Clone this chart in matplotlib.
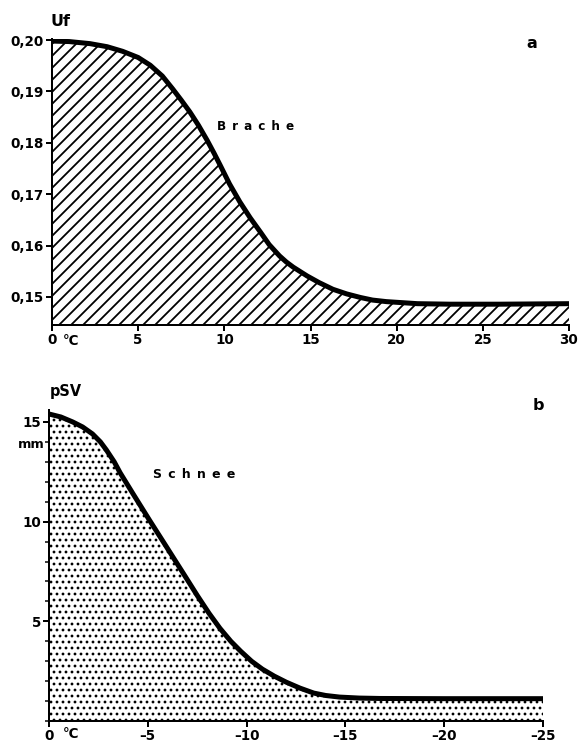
import numpy as np
import matplotlib.pyplot as plt

plt.rcParams['font.family'] = ['DejaVu Sans']
plt.rcParams['hatch.linewidth'] = 1.8

# panel a: Brache (Uf against temperature)
brache_t = [0, 1.0, 2.2, 3.2, 4.1, 5.0, 5.7, 6.4, 7.0, 7.5, 8.0, 8.5, 9.0, 9.4,
            9.75, 10.3, 10.9, 11.5, 12.1, 12.6, 13.2, 13.6, 14.0, 14.8, 15.5,
            16.3, 17.1, 17.9, 18.6, 19.4, 20.3, 21.2, 23.1, 26.0, 30.0]
brache_uf = [0.1998, 0.1997, 0.1993, 0.1987, 0.1978, 0.1966, 0.1951, 0.1930, 0.1905,
             0.1883, 0.1860, 0.1834, 0.1805, 0.1780, 0.1757, 0.1720, 0.1685, 0.1654,
             0.1626, 0.1602, 0.1580, 0.1568, 0.1558, 0.1541, 0.1528, 0.1515, 0.1506,
             0.1499, 0.1494, 0.1491, 0.1489, 0.1487, 0.1486, 0.1486, 0.1487]
uf_ticks = [0.15, 0.16, 0.17, 0.18, 0.19, 0.20]
uf_labels = ['0,15', '0,16', '0,17', '0,18', '0,19', '0,20']
ta_ticks = [0, 5, 10, 15, 20, 25, 30]
ta_labels = ['0', '5', '10', '15', '20', '25', '30']

# panel b: Schnee (pSV in mm against temperature)
snow_t = [0, -0.6, -1.2, -1.7, -2.2, -2.6, -2.9, -3.3, -3.6, -4.25, -5.1, -6.0,
          -6.8, -7.5, -8.1, -8.65, -9.2, -9.7, -10.25, -10.8, -11.4, -12.0,
          -12.7, -13.4, -14.0, -14.7, -15.7, -16.75, -20.0, -25.0]
snow_mm = [15.4, 15.25, 15.0, 14.75, 14.4, 14.0, 13.6, 13.0, 12.45, 11.4, 10.05,
           8.65, 7.4, 6.3, 5.4, 4.65, 4.0, 3.5, 3.0, 2.6, 2.25, 1.95, 1.65, 1.4,
           1.28, 1.2, 1.15, 1.13, 1.12, 1.12]
mm_ticks = [5, 10, 15]
mm_minor = list(range(0, 16))
tb_ticks = [0, -5, -10, -15, -20, -25]
tb_labels = ['0', '\u20135', '\u201310', '\u201315', '\u201320', '\u201325']

W, H = 580, 743
fig = plt.figure(figsize=(W / 72, H / 72), dpi=72)


def px_axes(left, top, right, bottom):
    return fig.add_axes([left / W, 1 - bottom / H, (right - left) / W, (bottom - top) / H])


def style(ax):
    for s in ['top', 'right']:
        ax.spines[s].set_visible(False)
    for s in ['left', 'bottom']:
        ax.spines[s].set_linewidth(2)
    ax.tick_params(direction='out', length=6, width=2, labelsize=13.5, pad=2)
    for lab in ax.get_xticklabels() + ax.get_yticklabels():
        lab.set_fontweight('bold')


# --- a ---
ax1 = px_axes(52, 39, 569, 325)
ax1.fill_between(brache_t, brache_uf, 0.14, facecolor='white', edgecolor='black',
                 hatch='//', linewidth=0)
ax1.plot(brache_t, brache_uf, color='black', lw=5, solid_capstyle='butt')
ax1.set_xlim(0, 30)
ax1.set_ylim(0.14455, 0.2002)
ax1.set_xticks(ta_ticks, ta_labels)
ax1.set_yticks(uf_ticks, uf_labels)
style(ax1)
ax1.annotate('°C', xy=(0, 0), xycoords='axes fraction', xytext=(11, -16),
             textcoords='offset points', ha='left', va='center', fontsize=13.5,
             fontweight='bold')

# --- b ---
ax2 = px_axes(49, 410, 543, 721)
coll = ax2.fill_between(snow_t, snow_mm, 0, facecolor='white', edgecolor='black',
                        hatch='..', linewidth=0)
if hasattr(coll, 'set_hatch_linewidth'):
    coll.set_hatch_linewidth(1.6)
ax2.plot(snow_t, snow_mm, color='black', lw=5, solid_capstyle='butt')
ax2.set_xlim(0, -25)
ax2.set_ylim(0, 15.6)
ax2.set_xticks(tb_ticks, tb_labels)
ax2.set_yticks(mm_ticks)
ax2.set_yticks(mm_minor, minor=True)
style(ax2)
ax2.tick_params(axis='y', which='minor', direction='out', length=4, width=1.5)
ax2.annotate('°C', xy=(0, 0), xycoords='axes fraction', xytext=(14, -13),
             textcoords='offset points', ha='left', va='center', fontsize=13.5,
             fontweight='bold')


# labels
def ftext(x, y, s, **kw):
    fig.text(x / W, 1 - y / H, s, fontweight='bold', **kw)


ftext(51, 21, 'Uf', ha='left', va='center', fontsize=16)
ftext(532, 44, 'a', ha='center', va='center', fontsize=16)
ftext(217, 127, 'B\u2002r\u2002a\u2002c\u2002h\u2002e', ha='left', va='center', fontsize=12)
ftext(50, 391, 'pSV', ha='left', va='center', fontsize=14.5)
ftext(538, 406, 'b', ha='center', va='center', fontsize=16)
ftext(45, 444, 'mm', ha='right', va='center', fontsize=13)
ftext(153, 474, 'S\u2002c\u2002h\u2002n\u2002e\u2002e', ha='left', va='center', fontsize=12.5)

fig.savefig('out.png', dpi=72)
